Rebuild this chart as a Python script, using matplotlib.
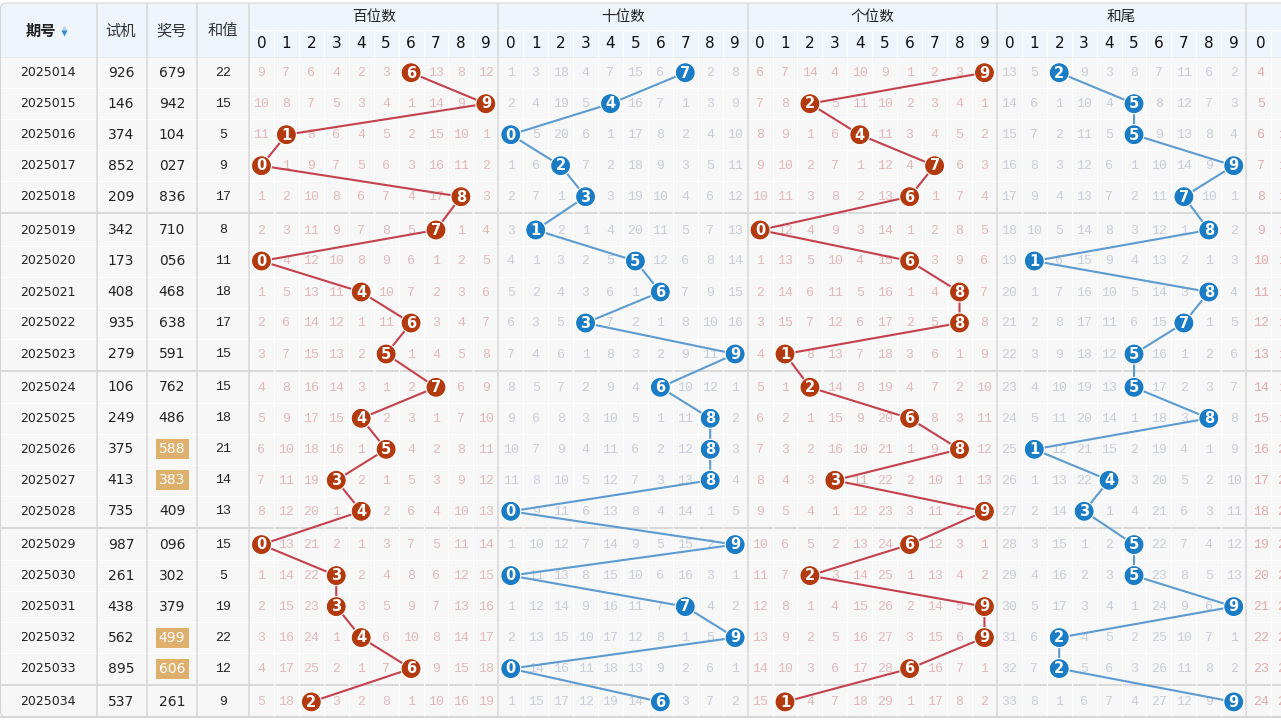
import matplotlib
matplotlib.use("Agg")
import matplotlib.pyplot as plt
import matplotlib.patches as patches

plt.rcParams['font.family'] = ['Noto Sans CJK SC', 'DejaVu Sans']

# ===== 数据 =====
periods = ["2025014", "2025015", "2025016", "2025017", "2025018", "2025019", "2025020",
           "2025021", "2025022", "2025023", "2025024", "2025025", "2025026", "2025027",
           "2025028", "2025029", "2025030", "2025031", "2025032", "2025033", "2025034"]
test_nums = ["926", "146", "374", "852", "209", "342", "173", "408", "935", "279", "106",
             "249", "375", "413", "735", "987", "261", "438", "562", "895", "537"]
draw_nums = ["679", "942", "104", "027", "836", "710", "056", "468", "638", "591", "762",
             "486", "588", "383", "409", "096", "302", "379", "499", "606", "261"]
sums = [22, 15, 5, 9, 17, 8, 11, 18, 17, 15, 15, 18, 21, 14, 13, 15, 5, 19, 22, 12, 9]
highlight_draws = ["588", "383", "499", "606"]

# 遗漏值 (0 = 当期开出)
hundreds_miss = [
    "9 7 6 4 2 3 0 13 8 12", "10 8 7 5 3 4 1 14 9 0", "11 0 8 6 4 5 2 15 10 1",
    "0 1 9 7 5 6 3 16 11 2", "1 2 10 8 6 7 4 17 0 3", "2 3 11 9 7 8 5 0 1 4",
    "0 4 12 10 8 9 6 1 2 5", "1 5 13 11 0 10 7 2 3 6", "2 6 14 12 1 11 0 3 4 7",
    "3 7 15 13 2 0 1 4 5 8", "4 8 16 14 3 1 2 0 6 9", "5 9 17 15 0 2 3 1 7 10",
    "6 10 18 16 1 0 4 2 8 11", "7 11 19 0 2 1 5 3 9 12", "8 12 20 1 0 2 6 4 10 13",
    "0 13 21 2 1 3 7 5 11 14", "1 14 22 0 2 4 8 6 12 15", "2 15 23 0 3 5 9 7 13 16",
    "3 16 24 1 0 6 10 8 14 17", "4 17 25 2 1 7 0 9 15 18", "5 18 0 3 2 8 1 10 16 19"]
tens_miss = [
    "1 3 18 4 7 15 6 0 2 8", "2 4 19 5 0 16 7 1 3 9", "0 5 20 6 1 17 8 2 4 10",
    "1 6 0 7 2 18 9 3 5 11", "2 7 1 0 3 19 10 4 6 12", "3 0 2 1 4 20 11 5 7 13",
    "4 1 3 2 5 0 12 6 8 14", "5 2 4 3 6 1 0 7 9 15", "6 3 5 0 7 2 1 8 10 16",
    "7 4 6 1 8 3 2 9 11 0", "8 5 7 2 9 4 0 10 12 1", "9 6 8 3 10 5 1 11 0 2",
    "10 7 9 4 11 6 2 12 0 3", "11 8 10 5 12 7 3 13 0 4", "0 9 11 6 13 8 4 14 1 5",
    "1 10 12 7 14 9 5 15 2 0", "0 11 13 8 15 10 6 16 3 1", "1 12 14 9 16 11 7 0 4 2",
    "2 13 15 10 17 12 8 1 5 0", "0 14 16 11 18 13 9 2 6 1", "1 15 17 12 19 14 0 3 7 2"]
units_miss = [
    "6 7 14 4 10 9 1 2 3 0", "7 8 0 5 11 10 2 3 4 1", "8 9 1 6 0 11 3 4 5 2",
    "9 10 2 7 1 12 4 0 6 3", "10 11 3 8 2 13 0 1 7 4", "0 12 4 9 3 14 1 2 8 5",
    "1 13 5 10 4 15 0 3 9 6", "2 14 6 11 5 16 1 4 0 7", "3 15 7 12 6 17 2 5 0 8",
    "4 0 8 13 7 18 3 6 1 9", "5 1 0 14 8 19 4 7 2 10", "6 2 1 15 9 20 0 8 3 11",
    "7 3 2 16 10 21 1 9 0 12", "8 4 3 0 11 22 2 10 1 13", "9 5 4 1 12 23 3 11 2 0",
    "10 6 5 2 13 24 0 12 3 1", "11 7 0 3 14 25 1 13 4 2", "12 8 1 4 15 26 2 14 5 0",
    "13 9 2 5 16 27 3 15 6 0", "14 10 3 6 17 28 0 16 7 1", "15 0 4 7 18 29 1 17 8 2"]
tail_miss = [
    "13 5 0 9 3 8 7 11 6 2", "14 6 1 10 4 0 8 12 7 3", "15 7 2 11 5 0 9 13 8 4",
    "16 8 3 12 6 1 10 14 9 0", "17 9 4 13 7 2 11 0 10 1", "18 10 5 14 8 3 12 1 0 2",
    "19 0 6 15 9 4 13 2 1 3", "20 1 7 16 10 5 14 3 0 4", "21 2 8 17 11 6 15 0 1 5",
    "22 3 9 18 12 0 16 1 2 6", "23 4 10 19 13 0 17 2 3 7", "24 5 11 20 14 1 18 3 0 8",
    "25 0 12 21 15 2 19 4 1 9", "26 1 13 22 0 3 20 5 2 10", "27 2 14 0 1 4 21 6 3 11",
    "28 3 15 1 2 0 22 7 4 12", "29 4 16 2 3 0 23 8 5 13", "30 5 17 3 4 1 24 9 6 0",
    "31 6 0 4 5 2 25 10 7 1", "32 7 0 5 6 3 26 11 8 2", "33 8 1 6 7 4 27 12 9 0"]
# 右侧被截断的下一组 (只露出前两列)
extra_col0 = [4, 5, 6, 7, 8, 9, 10, 11, 12, 13, 14, 15, 16, 17, 18, 19, 20, 21, 22, 23, 24]
extra_col1 = [8, 9, 10, 11, 12, 13, 14, 15, 16, 17, 18, 19, 20, 21, 22, 23, 24, 25, 26, 27, 28]

group_titles = ["百位数", "十位数", "个位数", "和尾"]
group_data = [hundreds_miss, tens_miss, units_miss, tail_miss]
group_style = ["red", "blue", "red", "blue"]

# ===== 样式 =====
RED_BALL, RED_LINE, RED_TXT = "#b3390f", "#c4424e", "#e2b9b9"
BLUE_BALL, BLUE_LINE, BLUE_TXT = "#1b7cc6", "#5d9bd0", "#c9cdd8"
GRID_GRAY = "#d9d9d9"
PX = 0.72  # 1 px in points

left_edges = [0, 97, 147, 197, 249]
left_centers = [48, 121, 172, 223]
G0, GW = 249, 249.3
CW = GW / 10
HEAD_TOP, HEAD_MID, HEAD_BOT, TABLE_BOT = 3, 30, 57, 717


def row_y(i):
    return 72.7 + 31 * i + 2.3 * (i // 5)


def cell_x(g, k):
    return G0 + g * GW + CW / 2 + CW * k


fig = plt.figure(figsize=(12.81, 7.21), dpi=100)
ax = fig.add_axes([0, 0, 1, 1])
ax.set_xlim(0, 1281)
ax.set_ylim(721, 0)
ax.axis('off')

# 背景
ax.add_patch(patches.Rectangle((0, HEAD_TOP), 1281, HEAD_BOT - HEAD_TOP, fc="#eef5fc", ec="none", zorder=0))
ax.add_patch(patches.Rectangle((0, HEAD_BOT), 1281, TABLE_BOT - HEAD_BOT, fc="#f7f7f7", ec="none", zorder=0))

# 行分隔线
n = len(periods)
for i in range(n):
    top = row_y(i) - 15.5
    if i > 0 and i % 5 == 0:
        y = (row_y(i - 1) + row_y(i)) / 2
        ax.hlines(y, 0, 1281, color=GRID_GRAY, lw=2 * PX, zorder=1)
    elif i > 0:
        ax.hlines(top, 0, 1281, color="white", lw=1.2 * PX, zorder=1)
ax.hlines(HEAD_MID, G0, 1281, color="white", lw=1.2 * PX, zorder=1)
ax.hlines(HEAD_BOT, 0, 1281, color="#e3e8ee", lw=1 * PX, zorder=1)
ax.hlines(TABLE_BOT, 0, 1281, color=GRID_GRAY, lw=2 * PX, zorder=1)

# 竖线
for g in range(5):
    for k in range(1, 10):
        x = G0 + g * GW + CW * k
        ax.vlines(x, HEAD_MID, TABLE_BOT, color="white", lw=1.2 * PX, zorder=1)
for x in left_edges[1:] + [G0 + g * GW for g in range(1, 5)]:
    ax.vlines(x, HEAD_TOP, TABLE_BOT, color=GRID_GRAY, lw=1.6 * PX, zorder=1)
ax.add_patch(patches.FancyBboxPatch((0.5, HEAD_TOP), 1300, TABLE_BOT - HEAD_TOP,
                                    boxstyle="round,pad=0,rounding_size=6",
                                    fc="none", ec="#d4d4d4", lw=1 * PX, zorder=1))

# 表头
ax.text(41, 31, "期号", ha="center", va="center", fontsize=11, fontweight="bold", color="#222222")
ax.scatter([64], [27.5], marker="^", s=18, color="#b9cfe4", zorder=3, linewidths=0)
ax.scatter([64], [33], marker="v", s=18, color="#2f8bd6", zorder=3, linewidths=0)
for x, t in zip(left_centers[1:], ["试机", "奖号", "和值"]):
    ax.text(x, 31, t, ha="center", va="center", fontsize=11, color="#333333")
for g, t in enumerate(group_titles):
    ax.text(G0 + g * GW + GW / 2, 17, t, ha="center", va="center", fontsize=10.5, color="#222222")
for g in range(4):
    for k in range(10):
        ax.text(cell_x(g, k), 44, str(k), ha="center", va="center", fontsize=11,
                color="#111111", family=["DejaVu Sans"])
ax.text(cell_x(4, 0) + 2, 44, "0", ha="center", va="center", fontsize=11,
        color="#111111", family=["DejaVu Sans"])

# 左侧数据
for i in range(n):
    y = row_y(i)
    ax.text(left_centers[0], y, periods[i], ha="center", va="center", fontsize=9,
            color="#222222", family=["DejaVu Sans"])
    ax.text(left_centers[1], y, test_nums[i], ha="center", va="center", fontsize=10,
            color="#222222", family=["DejaVu Sans"])
    if draw_nums[i] in highlight_draws:
        ax.add_patch(patches.Rectangle((left_centers[2] - 16.5, y - 10), 33, 20,
                                       fc="#deaf6d", ec="none", zorder=2))
        ax.text(left_centers[2], y, draw_nums[i], ha="center", va="center", fontsize=10,
                color="white", family=["DejaVu Sans"], zorder=3)
    else:
        ax.text(left_centers[2], y, draw_nums[i], ha="center", va="center", fontsize=10,
                color="#222222", family=["DejaVu Sans"])
    ax.text(left_centers[3], y, str(sums[i]), ha="center", va="center", fontsize=9.5,
            color="#222222", family=["Liberation Mono"])

# 遗漏值、连线、号码球
for g, rows in enumerate(group_data):
    red = group_style[g] == "red"
    ball_c = RED_BALL if red else BLUE_BALL
    line_c = RED_LINE if red else BLUE_LINE
    txt_c = RED_TXT if red else BLUE_TXT
    hx, hy, hk = [], [], []
    for i, row in enumerate(rows):
        vals = [int(v) for v in row.split()]
        y = row_y(i)
        for k, v in enumerate(vals):
            x = cell_x(g, k)
            if v == 0:
                hx.append(x)
                hy.append(y)
                hk.append(k)
            else:
                ax.text(x, y + 0.5, str(v), ha="center", va="center", fontsize=9.5,
                        color=txt_c, family=["Liberation Mono"], zorder=2)
    ax.plot(hx, hy, color=line_c, lw=2.1 * PX, zorder=3, solid_capstyle="round")
    for x, y, k in zip(hx, hy, hk):
        ax.add_patch(patches.Circle((x, y), 10, fc=ball_c, ec="white", lw=0.8, zorder=4))
        ax.text(x, y + 0.3, str(k), ha="center", va="center", fontsize=10.5, fontweight="bold",
                color="white", family=["DejaVu Sans"], zorder=5)

# 截断的右侧组
for i in range(n):
    y = row_y(i)
    ax.text(cell_x(4, 0) + 2, y + 0.5, str(extra_col0[i]), ha="center", va="center", fontsize=9.5,
            color="#e3aaaa", family=["Liberation Mono"], zorder=2)
    ax.text(cell_x(4, 1) + 2, y + 0.5, str(extra_col1[i]), ha="center", va="center", fontsize=9.5,
            color="#e3aaaa", family=["Liberation Mono"], zorder=2, clip_on=True)

fig.savefig("out.png", dpi=100, facecolor="white")
